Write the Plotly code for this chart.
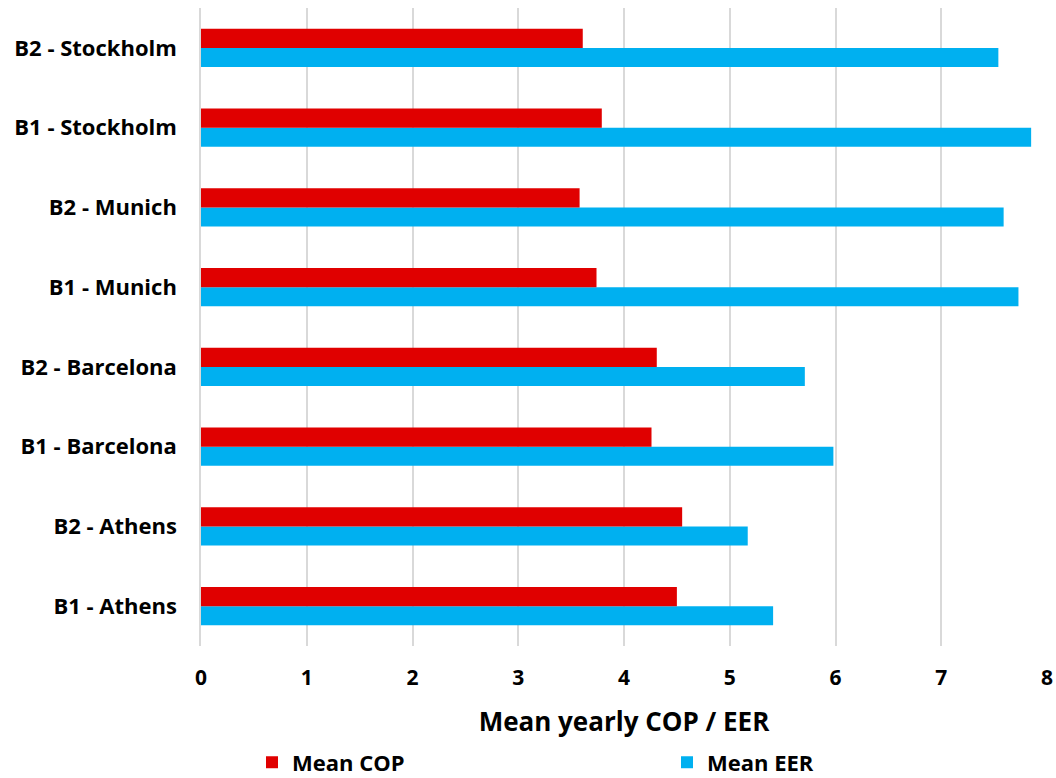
import plotly.graph_objects as go

# Buildings/climates, listed bottom-to-top as drawn on the category axis
cases = [
    "B1 - Athens", "B2 - Athens",
    "B1 - Barcelona", "B2 - Barcelona",
    "B1 - Munich", "B2 - Munich",
    "B1 - Stockholm", "B2 - Stockholm",
]
mean_cop = [4.50, 4.55, 4.26, 4.31, 3.74, 3.58, 3.79, 3.61]
mean_eer = [5.41, 5.17, 5.98, 5.71, 7.73, 7.59, 7.85, 7.54]
x_ticks = [0, 1, 2, 3, 4, 5, 6, 7, 8]

FONT = "Open Sans"
RED = "#E00000"
BLUE = "#00B0F0"
GRID = "#d9d9d9"

fig = go.Figure()
# EER trace first so that it sits below COP within each group
fig.add_trace(go.Bar(
    y=cases, x=mean_eer, orientation="h", name="Mean EER",
    marker=dict(color=BLUE, line=dict(width=0)), legend="legend2",
))
fig.add_trace(go.Bar(
    y=cases, x=mean_cop, orientation="h", name="Mean COP",
    marker=dict(color=RED, line=dict(width=0)), legend="legend",
))

legend_style = dict(
    orientation="h", xref="container", yref="container",
    xanchor="left", yanchor="middle", y=0.02,
    font=dict(size=22, family=FONT, weight="bold", color="black"),
    bgcolor="rgba(0,0,0,0)", itemwidth=30,
)

fig.update_layout(
    width=1056, height=778,
    margin=dict(l=201, r=9, t=8, b=132, autoexpand=False),
    paper_bgcolor="white", plot_bgcolor="white",
    barmode="group", bargap=0.52, bargroupgap=0,
    font=dict(family=FONT, color="black"),
    showlegend=True,
    legend=dict(x=252 / 1056, **legend_style),
    legend2=dict(x=667 / 1056, **legend_style),
)
fig.update_xaxes(
    range=[0, 8], tickvals=x_ticks, ticktext=[str(v) for v in x_ticks],
    showgrid=True, gridcolor=GRID, gridwidth=1.5,
    zeroline=False, showline=False,
    tickfont=dict(size=21, family=FONT, weight="bold"),
    ticks="outside", ticklen=13, tickcolor="rgba(0,0,0,0)",
    title=dict(text="Mean yearly COP / EER", standoff=22,
               font=dict(size=26, family=FONT, weight="bold")),
)
fig.update_yaxes(
    categoryorder="array", categoryarray=cases,
    showgrid=False, zeroline=False,
    showline=True, linecolor=GRID, linewidth=1.5,
    tickfont=dict(size=22, family=FONT, weight="bold"),
    ticks="", ticklabelstandoff=18,
)

fig.write_html("out.html")
